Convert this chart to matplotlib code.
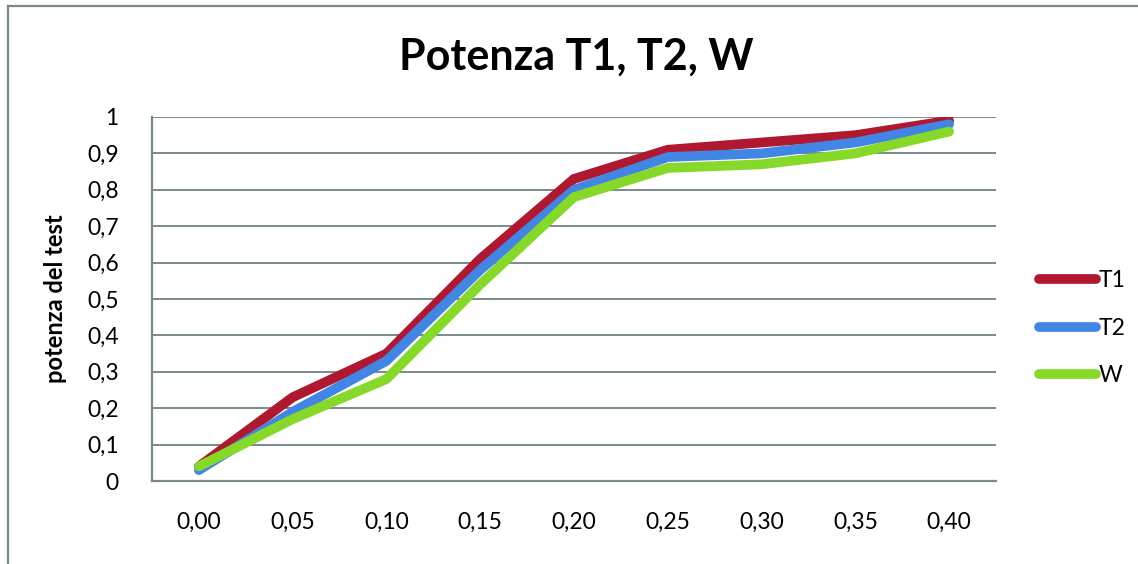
import matplotlib.pyplot as plt
from matplotlib.lines import Line2D

# Power of the three tests against shift
shift_labels = ['0,00', '0,05', '0,10', '0,15', '0,20', '0,25', '0,30', '0,35', '0,40']
t1 = [0.04, 0.23, 0.35, 0.61, 0.83, 0.91, 0.93, 0.95, 0.99]
t2 = [0.03, 0.19, 0.33, 0.58, 0.80, 0.89, 0.90, 0.93, 0.98]
w = [0.04, 0.17, 0.28, 0.54, 0.78, 0.86, 0.87, 0.90, 0.96]
series_names = ['T1', 'T2', 'W']
y_labels = ['0', '0,1', '0,2', '0,3', '0,4', '0,5', '0,6', '0,7', '0,8', '0,9', '1']

colors = ['#B0182F', '#4286E5', '#86D928']
grey = '#7A8A8A'

plt.rcParams['font.family'] = ['Lato', 'DejaVu Sans']

W, H = 1138, 564
fig = plt.figure(figsize=(W / 100, H / 100), dpi=100)

# outer chart frame (left and top edges)
fig.add_artist(Line2D([8 / W, 8 / W], [0, 1 - 6 / H], color=grey, lw=1.6))
fig.add_artist(Line2D([8 / W, 1], [1 - 6 / H, 1 - 6 / H], color=grey, lw=1.6))

ax = fig.add_axes([152 / W, 1 - 481 / H, (996 - 152) / W, (481 - 117) / H])

x = list(range(len(shift_labels)))
for vals, name, c in zip([t1, t2, w], series_names, colors):
    ax.plot(x, vals, color=c, lw=7, solid_capstyle='round', solid_joinstyle='miter', label=name)

ax.set_xlim(-0.5, len(shift_labels) - 0.5)
ax.set_ylim(0, 1)
ax.set_yticks([i / 10 for i in range(11)])
ax.set_yticklabels(y_labels)
ax.set_xticks(x)
ax.set_xticklabels(shift_labels)
ax.tick_params(length=0, labelsize=16.5, colors='black')
ax.tick_params(axis='y', pad=24)
ax.tick_params(axis='x', pad=22)
ax.grid(axis='y', color=grey, lw=1.4)
ax.set_axisbelow(True)
for side in ['top', 'right']:
    ax.spines[side].set_visible(False)
for side in ['left', 'bottom']:
    ax.spines[side].set_color(grey)
    ax.spines[side].set_linewidth(1.6)

ax.set_ylabel('potenza del test', fontsize=17, fontweight='bold', labelpad=14)
fig.text(576 / W, 1 - 57 / H, 'Potenza T1, T2, W', fontsize=31, fontweight='bold',
         ha='center', va='center')

ax.legend(loc='center left', bbox_to_anchor=(1.04, 0.42), frameon=False, fontsize=16.5,
          handlelength=2.5, handletextpad=0.1, labelspacing=1.15, borderaxespad=0)

fig.savefig('out.png', dpi=100)
